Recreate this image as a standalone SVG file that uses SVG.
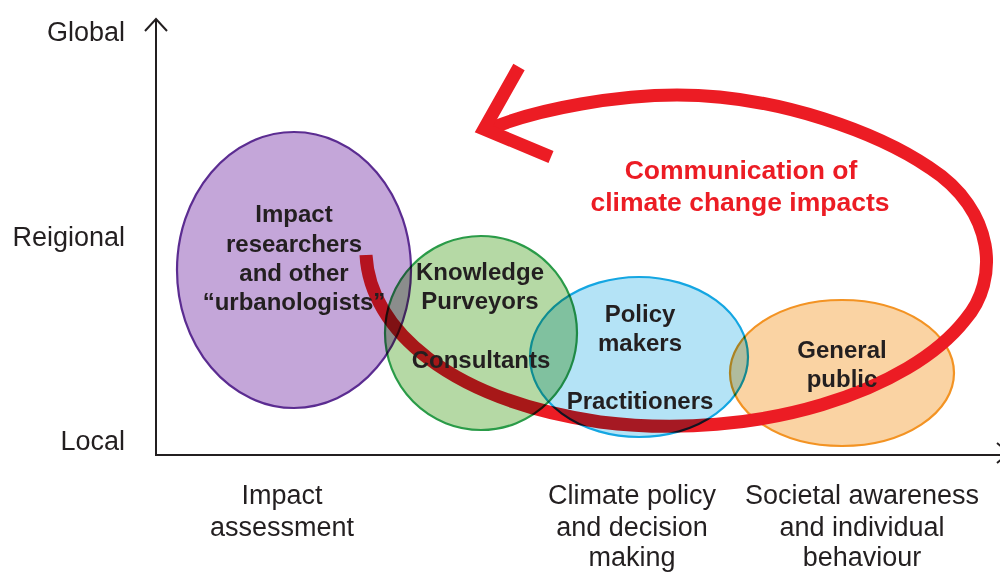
<svg xmlns="http://www.w3.org/2000/svg" width="1000" height="574" viewBox="0 0 1000 574">
<style>
.lbl{font-family:"Liberation Sans",Arial,sans-serif;font-size:27px;fill:#231f20;}
.ax{text-anchor:end;}
.mid{text-anchor:middle;}
.nt{font-family:"Liberation Sans",Arial,sans-serif;font-size:24px;font-weight:bold;fill:#231f20;text-anchor:middle;}
.red{font-family:"Liberation Sans",Arial,sans-serif;font-size:26.5px;font-weight:bold;fill:#ec1c24;text-anchor:middle;}
.axis{fill:none;stroke:#231f20;stroke-width:2;}
.ell{mix-blend-mode:multiply;stroke-width:2.2;}
.loop{fill:none;stroke:#ec1c24;stroke-width:13;}
</style>
<rect x="0" y="0" width="1000" height="574" fill="#ffffff"/>
<g id="axes">
<polyline class="axis" points="156,20 156,455 1000,455"/>
<polyline class="axis" points="145,31 156,19 167,31"/>
<polyline class="axis" points="997,443 1009,453 997,463"/>
<text class="lbl ax" x="125" y="41">Global</text>
<text class="lbl ax" x="125" y="246">Reigional</text>
<text class="lbl ax" x="125" y="450">Local</text>
<text class="lbl mid" x="282" y="504">Impact</text>
<text class="lbl mid" x="282" y="536">assessment</text>
<text class="lbl mid" x="632" y="504">Climate policy</text>
<text class="lbl mid" x="632" y="536">and decision</text>
<text class="lbl mid" x="632" y="566">making</text>
<text class="lbl mid" x="862" y="504">Societal awareness</text>
<text class="lbl mid" x="862" y="536">and individual</text>
<text class="lbl mid" x="862" y="566">behaviour</text>
</g>
<g id="node-public-shape">
<ellipse cx="842" cy="373" rx="112" ry="73" fill="#fad3a3" stroke="#f39323" stroke-width="2.2"/>
</g>
<g id="connectors">
<path class="loop" d="M366,255 C370,330 450,400 600,422 C760,442 910,390 965,320 C1000,280 995,210 930,168 C880,134 780,95 677,95 C620,95 540,108 492,128"/>
<polyline class="loop" stroke-linejoin="miter" points="519,67 484,129 551,157"/>
</g>
<g id="node-researchers">
<ellipse class="ell" cx="294" cy="270" rx="117" ry="138" fill="#c4a6d9" stroke="#5b2c91"/>
</g>
<g id="node-purveyors">
<ellipse class="ell" cx="481" cy="333" rx="96" ry="97" fill="#b5d9a5" stroke="#2a9b48"/>
</g>
<g id="node-policy">
<ellipse class="ell" cx="639" cy="357" rx="109" ry="80" fill="#b4e3f6" stroke="#14a6e2"/>
</g>
<g id="labels">
<text class="nt" x="294" y="222">Impact</text>
<text class="nt" x="294" y="252">researchers</text>
<text class="nt" x="294" y="281">and other</text>
<text class="nt" x="294" y="310">“urbanologists”</text>
<text class="nt" x="480" y="280">Knowledge</text>
<text class="nt" x="480" y="309">Purveyors</text>
<text class="nt" x="481" y="368">Consultants</text>
<text class="nt" x="640" y="322">Policy</text>
<text class="nt" x="640" y="351">makers</text>
<text class="nt" x="640" y="409">Practitioners</text>
<text class="nt" x="842" y="358">General</text>
<text class="nt" x="842" y="387">public</text>
<text class="red" x="741" y="179">Communication of</text>
<text class="red" x="740" y="211">climate change impacts</text>
</g>
</svg>
